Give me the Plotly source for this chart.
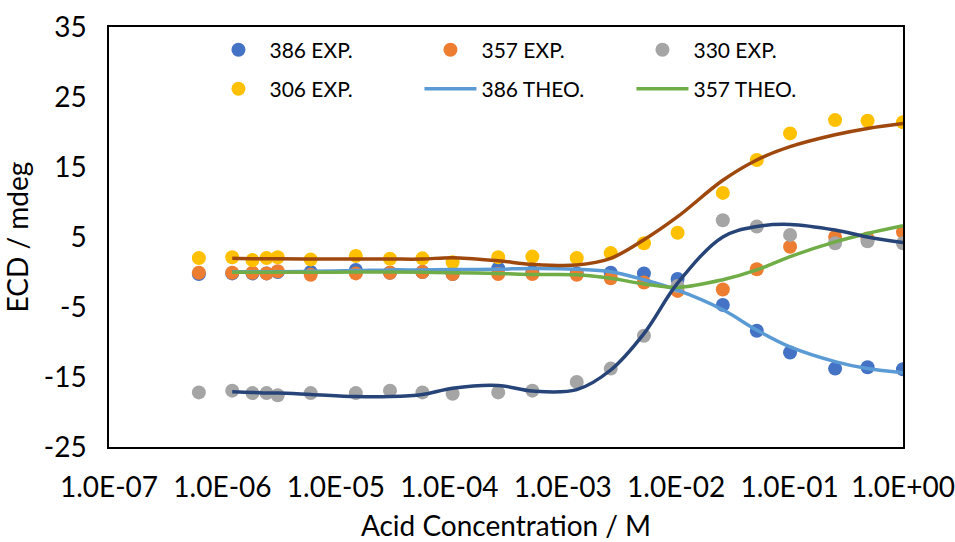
import plotly.graph_objects as go

conc = [6.2e-7, 1.22e-6, 1.84e-6, 2.45e-6, 3.07e-6, 6.0e-6, 1.5e-5, 3.0e-5, 5.8e-5,
        1.07e-4, 2.7e-4, 5.4e-4, 1.33e-3, 2.65e-3, 5.2e-3, 1.03e-2, 2.58e-2, 5.14e-2,
        1.01e-1, 2.52e-1, 4.87e-1, 1.0]
theo_conc = conc[1:]

exp_386 = [-0.3, -0.2, -0.2, -0.2, 0.0, 0.0, 0.3, -0.1, 0.0, -0.3, 0.5, 0.0, -0.2,
           -0.1, -0.2, -1.0, -4.7, -8.4, -11.5, -13.8, -13.6, -13.9]
exp_357 = [-0.1, -0.1, -0.1, -0.2, 0.1, -0.4, -0.2, -0.1, 0.0, -0.3, -0.3, -0.3, -0.4,
           -0.9, -1.5, -2.7, -2.5, 0.4, 3.6, 5.0, 4.8, 5.7]
exp_330 = [-17.2, -16.95, -17.3, -17.3, -17.6, -17.3, -17.3, -16.95, -17.2, -17.4, -17.2,
           -16.95, -15.7, -13.8, -9.1, -2.0, 7.4, 6.5, 5.3, 4.1, 4.4, 4.1]
exp_306 = [2.0, 2.1, 1.7, 2.0, 2.1, 1.8, 2.3, 1.9, 1.95, 1.4, 2.1, 2.2, 2.0, 2.7, 4.1,
           5.6, 11.3, 16.0, 19.8, 21.7, 21.6, 21.4]

theo_386 = [0.05, 0.05, 0.05, 0.05, 0.1, 0.2, 0.3, 0.3, 0.35, 0.4, 0.5, 0.4, 0.05, -1.1,
            -2.6, -5.4, -8.3, -10.7, -12.8, -13.8, -14.4]
theo_357 = [-0.05, -0.05, -0.05, -0.05, -0.05, 0.0, 0.0, -0.05, -0.1, -0.2, -0.35, -0.4,
            -0.9, -1.7, -2.2, -1.1, 0.3, 2.2, 4.3, 5.5, 6.6]
theo_330 = [-17.1, -17.2, -17.3, -17.3, -17.5, -17.8, -17.8, -17.5, -16.6, -16.2, -17.0,
            -16.8, -14.0, -8.8, -1.6, 5.0, 6.5, 6.8, 6.0, 5.0, 4.2]
theo_306 = [1.95, 1.9, 1.9, 1.9, 1.85, 1.85, 1.85, 1.85, 2.05, 1.6, 1.1, 1.0, 1.95, 4.6,
            7.9, 13.1, 16.0, 17.9, 19.6, 20.5, 21.2]

x_tickvals = [1e-7, 1e-6, 1e-5, 1e-4, 1e-3, 1e-2, 1e-1, 1e0]
x_ticktext = ["1.0E-07", "1.0E-06", "1.0E-05", "1.0E-04", "1.0E-03", "1.0E-02",
              "1.0E-01", "1.0E+00"]
y_tickvals = [-25, -15, -5, 5, 15, 25, 35]
y_ticktext = ["-25", "-15", "-5", "5", "15", "25", "35"]

FONT = "Lato, 'Open Sans', sans-serif"

fig = go.Figure()

for name, ys, col, lg in [("386 EXP.", exp_386, "#4472C4", "legend"),
                          ("357 EXP.", exp_357, "#ED7D31", "legend"),
                          ("330 EXP.", exp_330, "#A5A5A5", "legend"),
                          ("306 EXP.", exp_306, "#FFC000", "legend2")]:
    fig.add_trace(go.Scatter(x=conc, y=ys, mode="markers", name=name, legend=lg,
                             marker=dict(color=col, size=14, line=dict(width=0))))

for name, ys, col, show in [("386 THEO.", theo_386, "#5B9BD5", True),
                            ("357 THEO.", theo_357, "#70AD47", True),
                            ("330 THEO.", theo_330, "#264478", False),
                            ("306 THEO.", theo_306, "#9E480E", False)]:
    fig.add_trace(go.Scatter(x=theo_conc, y=ys, mode="lines", name=name, showlegend=show,
                             legend="legend2",
                             line=dict(color=col, width=3.5, shape="spline", smoothing=1.0)))

leg_common = dict(orientation="h", xanchor="left", yanchor="middle",
                  entrywidth=145, entrywidthmode="pixels", itemwidth=52,
                  font=dict(size=21, family=FONT), bgcolor="rgba(0,0,0,0)",
                  borderwidth=0)

fig.update_layout(
    width=955, height=542,
    margin=dict(l=109, r=52, t=27, b=95),
    paper_bgcolor="white", plot_bgcolor="white",
    font=dict(family=FONT, color="black"),
    hovermode=False,
    legend=dict(x=0.124, y=0.945, **leg_common),
    legend2=dict(x=0.124, y=0.852, **leg_common),
    xaxis=dict(type="log", range=[-7, 0], tickvals=x_tickvals, ticktext=x_ticktext,
               showgrid=False, zeroline=False, showline=True, linecolor="black",
               linewidth=1.5, mirror=True, ticks="", automargin=False,
               ticklabelstandoff=15,
               tickfont=dict(size=28, family=FONT),
               title=dict(text="Acid Concentration / M", font=dict(size=28, family=FONT),
                          standoff=14)),
    yaxis=dict(range=[-25, 35], tickvals=y_tickvals, ticktext=y_ticktext,
               showgrid=False, zeroline=False, automargin=False,
               showline=True, linecolor="black", linewidth=1.5, mirror=True, ticks="",
               ticklabelstandoff=15,
               tickfont=dict(size=28, family=FONT),
               title=dict(text="ECD / mdeg", font=dict(size=28, family=FONT), standoff=8)),
)

fig.write_html("out.html", config={"displayModeBar": False},
               post_script="document.body.style.margin='0';document.body.style.overflow='hidden';")
